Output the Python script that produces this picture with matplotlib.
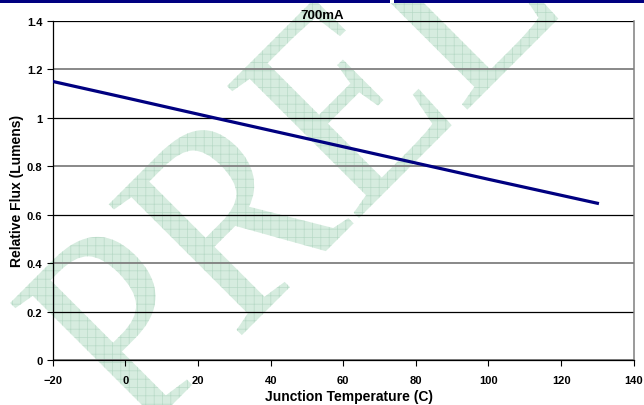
import matplotlib
matplotlib.use('Agg')
import matplotlib.pyplot as plt
from matplotlib.patches import Rectangle, PathPatch
from matplotlib.textpath import TextPath
from matplotlib.font_manager import FontProperties
from matplotlib.transforms import Affine2D

# Relative flux vs junction temperature at 700mA
temps = [-20, 0, 25, 50, 75, 100, 130]
flux = [1.15, 1.083, 0.998, 0.914, 0.830, 0.746, 0.647]

xticks = [-20, 0, 20, 40, 60, 80, 100, 120, 140]
yticks = [0, 0.2, 0.4, 0.6, 0.8, 1.0, 1.2, 1.4]
ytick_labels = ['0', '0.2', '0.4', '0.6', '0.8', '1', '1.2', '1.4']

plt.rcParams['font.family'] = ['Liberation Sans', 'DejaVu Sans']
plt.rcParams['font.weight'] = 'bold'
plt.rcParams['hatch.linewidth'] = 0.5
plt.rcParams['hatch.color'] = '#b8dac7'

fig = plt.figure(figsize=(6.44, 4.06), dpi=100, facecolor='white')
L, B, W, H = 0.082, 0.111, 0.902, 0.835
ax = fig.add_axes([L, B, W, H])
ax.patch.set_visible(False)

# watermark behind the axes (pixel coords, y up)
tp = TextPath((0, 0), 'PREL', size=285,
              prop=FontProperties(family='Liberation Serif', weight='normal'))
bb = tp.get_extents()
tr = (Affine2D().translate(-(bb.x0 + bb.x1) / 2, -(bb.y0 + bb.y1) / 2)
      .scale(0.88, 1.0).rotate_deg(45).translate(285, 245))
wm = PathPatch(tr.transform_path(tp), facecolor='#d6ecdf', edgecolor='#b8dac7',
               hatch='++', lw=0, transform=None, zorder=-1)
fig.patches.append(wm)

# dark band at the top
fig.patches.append(Rectangle((0, 0.99), 1, 0.01, transform=fig.transFigure,
                             facecolor='#000080', edgecolor='none', zorder=5))
fig.patches.append(Rectangle((0.606, 0.99), 0.006, 0.01, transform=fig.transFigure,
                             facecolor='white', edgecolor='none', zorder=6))

ax.plot(temps, flux, color='#000080', lw=2.3, zorder=3)

ax.set_xlim(-20, 140)
ax.set_ylim(0, 1.4)
ax.set_xticks(xticks)
ax.set_yticks(yticks)
ax.set_yticklabels(ytick_labels)
ax.tick_params(labelsize=8, length=4, width=0.8, direction='out')
ax.tick_params(axis='x', pad=6.5)

ax.yaxis.grid(True)
for i, gl in enumerate(ax.get_ygridlines()):
    if i % 2 == 0:
        gl.set_color('#7f7f7f')
        gl.set_linewidth(1.3)
    else:
        gl.set_color('black')
        gl.set_linewidth(0.9)

ax.spines['top'].set_visible(False)
ax.spines['right'].set_color('#7f7f7f')
ax.spines['right'].set_linewidth(1.1)
ax.spines['left'].set_linewidth(0.9)
ax.spines['bottom'].set_linewidth(0.9)

ax.set_title('700mA', fontsize=9.5, fontweight='bold', pad=1, x=(0.5 - L) / W)
ax.set_xlabel('Junction Temperature (C)', fontsize=10, fontweight='bold', labelpad=4)
ax.xaxis.set_label_coords(0.51, -0.085)
ax.set_ylabel('Relative Flux (Lumens)', fontsize=10, fontweight='bold', labelpad=2)

fig.savefig('out.png', dpi=100)
